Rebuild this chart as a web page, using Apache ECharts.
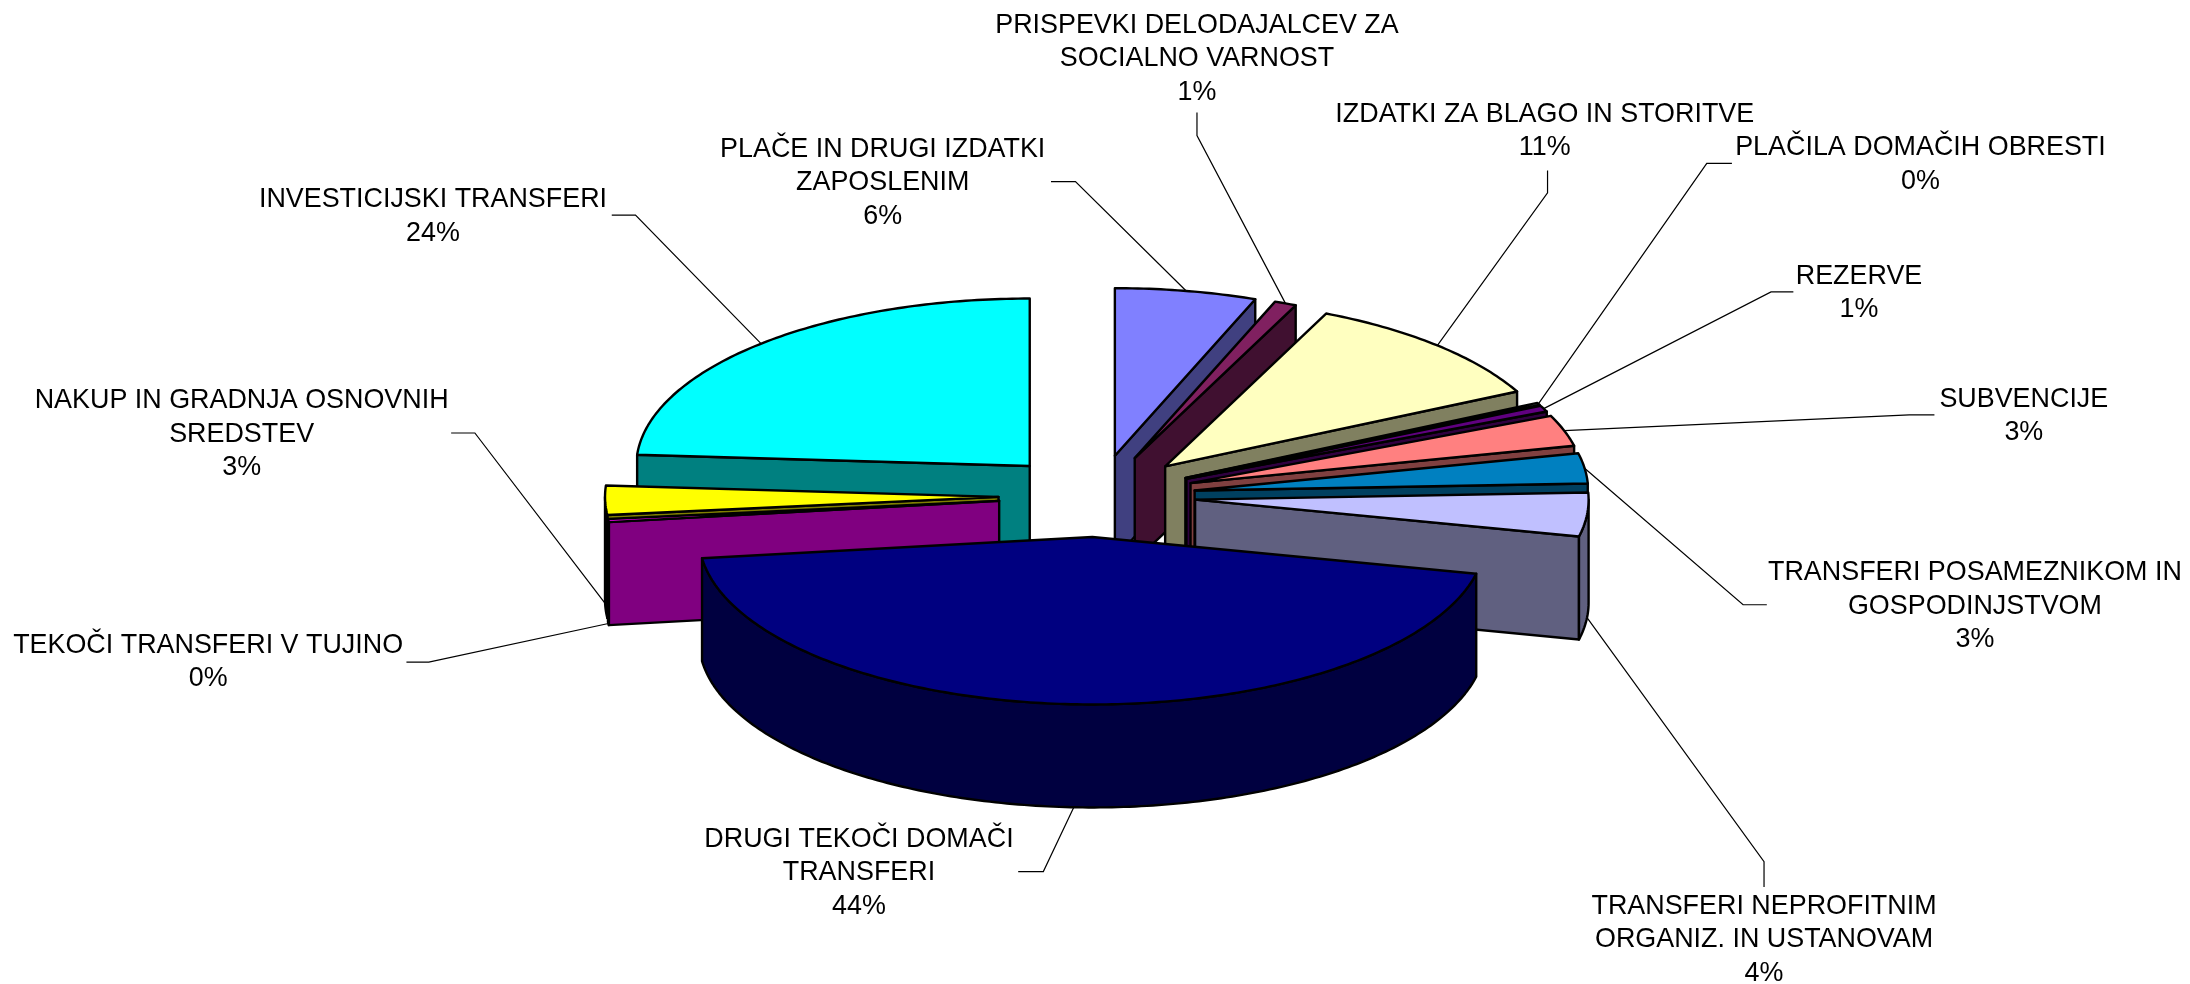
<!DOCTYPE html>
<html><head><meta charset="utf-8">
<style>html,body{margin:0;padding:0;background:#fff}#c{width:2190px;height:984px}</style>
<script src="https://cdn.jsdelivr.net/npm/echarts@6/dist/echarts.min.js"></script>
</head><body><div id="c"></div>
<script>
// ---- data ----
const categories = [
  'PLAČE IN DRUGI IZDATKI\nZAPOSLENIM',
  'PRISPEVKI DELODAJALCEV ZA\nSOCIALNO VARNOST',
  'IZDATKI ZA BLAGO IN STORITVE',
  'PLAČILA DOMAČIH OBRESTI',
  'REZERVE',
  'SUBVENCIJE',
  'TRANSFERI POSAMEZNIKOM IN\nGOSPODINJSTVOM',
  'TRANSFERI NEPROFITNIM\nORGANIZ. IN USTANOVAM',
  'DRUGI TEKOČI DOMAČI\nTRANSFERI',
  'TEKOČI TRANSFERI V TUJINO',
  'NAKUP IN GRADNJA OSNOVNIH\nSREDSTEV',
  'INVESTICIJSKI TRANSFERI'
];
const shares = [5.8, 0.9, 10.9, 0.2, 0.6, 3.0, 2.9, 4.2, 44.4, 0.3, 2.8, 23.9];

// ---- styles and layout (not data) ----
const topColors  = ['#8080FF','#802060','#FFFFC0','#C0FFFF','#600080','#FF8080','#0080C0','#C0C0FF','#000080','#FF00FF','#FFFF00','#00FFFF'];
const wallColors = ['#404080','#401030','#808060','#606080','#300040','#804040','#004060','#606080','#000040','#800080','#808000','#008080'];
const drawOrder  = [11,10,9,0,1,2,3,4,5,6,7,8];
const pie = {cx:1097, cy:496, a:393.5, b:167.5, depth:103, explodeX:98.5, explodeY:41};
const S = 1.3967;
const labelPos = [[632,107],[857,18],[1106,82],[1375,106],[1331,198],[1449,286],[1414,410],[1263,649],[615,601],[149,462],[173,287],[310,143]];
const leaderHeads = [
  [[752.5,130],[770,130]], [[857,80.5],[857,97]], [[1108,122],[1108,138]], [[1240,117],[1222,117]],
  [[1284,209],[1268,209]], [[1385,297],[1367,297]], [[1265,433],[1248,433]], [[1263,635],[1263,617]],
  [[729,624],[747,624]], [[291,474],[307,474]], [[323,310],[340,310]], [[438,154],[455,154]]
];
const FONT = {size:26.9, line:33.5, family:'"Liberation Sans", Arial, sans-serif'};

// ---- helpers ----
const total = shares.reduce((s,v)=>s+v,0);
const starts = []; shares.reduce((acc,v,i)=>{starts[i]=acc; return acc+v;},0);
const rad = v => v/total*2*Math.PI;
function pt(t, ox, oy, z){ return [ox+pie.a*Math.sin(t), oy-pie.b*Math.cos(t)+z]; }
function arc(t0, t1, ox, oy, z){
  const n = Math.max(2, Math.ceil(Math.abs(t1-t0)/0.015)), out=[];
  for(let i=0;i<=n;i++) out.push(pt(t0+(t1-t0)*i/n, ox, oy, z));
  return out;
}
function poly(points, fill, z2, lw){
  return {type:'polygon', z2:z2, shape:{points:points}, style:{fill:fill, stroke:'#000', lineWidth:lw||2.4, lineJoin:'round'}, silent:true};
}
function renderSlice(params, api){
  const i = params.dataIndex, v = api.value(0);
  const t0 = rad(starts[i]), t1 = t0 + rad(v), mid = (t0+t1)/2;
  const ox = pie.cx + pie.explodeX*Math.sin(mid), oy = pie.cy - pie.explodeY*Math.cos(mid);
  const rank = drawOrder.indexOf(i)*10 + 10, d = pie.depth, kids = [], apex=[ox,oy];
  // visible radial faces
  if(Math.sin(t0)<0){ const e=pt(t0,ox,oy,0), f=pt(t0,ox,oy,d); kids.push(poly([apex,e,f,[ox,oy+d]],wallColors[i],rank)); }
  if(Math.sin(t1)>0){ const e=pt(t1,ox,oy,0), f=pt(t1,ox,oy,d); kids.push(poly([apex,e,f,[ox,oy+d]],wallColors[i],rank)); }
  // outer cylinder wall (front half only)
  const w0=Math.max(t0,Math.PI/2), w1=Math.min(t1,3*Math.PI/2);
  if(w1>w0){ kids.push(poly(arc(w0,w1,ox,oy,0).concat(arc(w1,w0,ox,oy,d)),wallColors[i],rank+1)); }
  // top face
  kids.push(poly([apex].concat(arc(t0,t1,ox,oy,0)),topColors[i],rank+2));
  // leader line ends on the rim or on the foot of the wall
  const end = pt(mid,ox,oy,Math.cos(mid)<0?d:0);
  const head = leaderHeads[i].map(p=>[p[0]*S,p[1]*S]);
  kids.push({type:'polyline', z2:500, shape:{points:head.concat([end])}, style:{fill:null, stroke:'#000', lineWidth:1.2}, silent:true});
  // label
  const pct = Math.round(v/total*100)+'%';
  kids.push({type:'text', z2:600, silent:true, x:labelPos[i][0]*S, y:labelPos[i][1]*S,
    style:{text:categories[i]+'\n'+pct, textAlign:'center', textVerticalAlign:'top', fill:'#000',
      font:FONT.size+'px '+FONT.family, lineHeight:FONT.line, y:-FONT.line/2}});
  return {type:'group', children:kids};
}
const chart = echarts.init(document.getElementById('c'), null, {renderer:'canvas'});
chart.setOption({
  animation:false, backgroundColor:'#fff',
  series:[{type:'custom', coordinateSystem:'none', renderItem:renderSlice, animation:false, clip:false,
    data:shares.map((v,i)=>({name:categories[i], value:v}))}]
});
</script></body></html>
